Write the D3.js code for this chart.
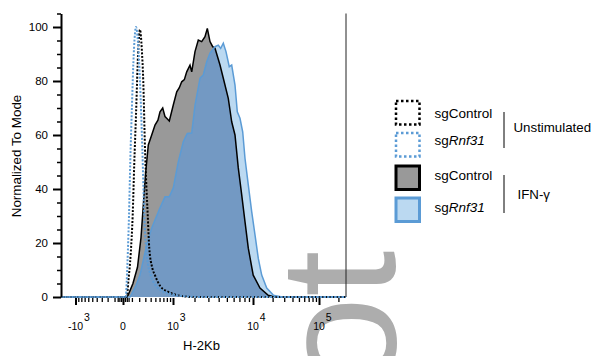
<!DOCTYPE html>
<html>
<head>
<meta charset="utf-8">
<script src="https://cdn.jsdelivr.net/npm/d3@7"></script>
<style>
  body { margin: 0; background: #fff; }
  svg { display: block; font-family: "Liberation Sans", Arial, sans-serif; }
</style>
</head>
<body>
<div id="chart"></div>
<script>
// histogram values: [H-2Kb intensity, % of mode]
var unstimControl = [[-1600,0],[40,0],[57,5.7],[85,16],[110,30.4],[130,49],[154,67.4],[187,92],[212,99],[240,92],
  [265,79.7],[294,55],[343,30.4],[373,18],[430,11],[492,8],[620,4],[844,1.9],[1200,0.6],[2000,0],[262144,0]];
var unstimRnf31 = [[-1600,0],[30,0],[39,5.7],[52,17],[65,30.4],[80,50],[97,67.4],[127,92],[154,100],[180,95],
  [212,80],[249,55],[282,30.4],[312,18],[350,12],[401,8],[500,4.5],[698,2],[1000,0.9],[1600,0.2],[2500,0],[262144,0]];
var ifnControl = [[-1600,0],[42,0],[55,0.7],[113,5],[175,11],[228,22],[259,32],[301,45],[354,56.3],[421,60],
  [492,63.7],[560,65.5],[611,68.6],[682,70],[746,66.8],[810,66],[876,65.2],[1010,71.1],[1137,76],[1240,77.5],
  [1341,79.7],[1460,80.5],[1574,83.4],[1744,85.9],[1838,83.4],[2030,90.9],[2240,95.2],[2474,94.6],[2722,96.4],
  [2909,99.5],[3138,94.6],[3387,92.7],[3612,92.1],[4148,85.9],[4540,81],[5196,73.6],[5696,64.9],[6223,60],
  [6792,47.8],[7436,37.8],[8107,27.9],[8842,18.1],[10073,8.1],[12820,3.3],[17000,0.7],[21720,0],[262144,0]];
var ifnRnf31 = [[-1600,0],[77,0],[150,4],[212,8.1],[324,19.3],[421,25.6],[611,33],[746,37.1],[876,37.1],
  [1010,40.4],[1200,50.1],[1412,57.5],[1604,60.6],[1838,60.7],[2030,71],[2356,81.1],[2591,82.2],[2860,87.1],
  [3138,90.3],[3612,92.7],[3956,93.3],[4227,92.1],[4540,94],[4884,90.9],[5338,85.3],[5696,85.9],[6223,78.5],
  [6616,68.6],[7105,66.2],[7633,61.2],[8107,51.4],[8842,41.5],[9664,31.6],[10740,23],[12076,14.3],[13624,8.1],
  [16252,3.3],[20480,0.7],[27760,0],[262144,0]];

var yMajorTicks = [0, 20, 40, 60, 80, 100];
var yMinorTicks = [5, 10, 15, 25, 30, 35, 45, 50, 55, 65, 70, 75, 85, 90, 95, 105];
var xMajorTicks = [-1000, 0, 1000, 10000, 100000];
var xTickBase = ["-10", "0", "10", "10", "10"];
var xTickExp = ["3", "", "3", "4", "5"];
var xMinorTicks = d3.range(-900, 0, 100).concat([-60, -40, -20, 20, 40, 60],
  d3.range(100, 1000, 100), d3.range(2000, 10000, 1000), d3.range(20000, 100000, 10000), [200000]);

var legendNames = ["sgControl", "sg", "sgControl", "sg"];
var legendItalic = ["", "Rnf31", "", "Rnf31"];
var groupNames = ["Unstimulated", "IFN-\u03b3"];

var black = "#000", blue = "#5b9bd5", grey = "#999999", lightBlue = "#bbd9f1", steel = "#7399c3";

var svg = d3.select("#chart").append("svg").attr("width", 599).attr("height", 356);

// faint watermark letters behind the chart
svg.append("text")
  .attr("transform", "translate(395,389) rotate(-90)")
  .attr("font-size", 166)
  .attr("fill", "#adadad")
  .text("ot");

var x = d3.scaleSymlog().constant(400)
  .domain([-1600, -1000, 0, 1000, 10000, 100000, 262144])
  .range([61, 75.5, 123, 173, 253, 319, 346]);
var y = d3.scaleLinear().domain([0, 105]).range([297, 13.5]);

var area = d3.area().x(function(d) { return x(d[0]); }).y0(y(0)).y1(function(d) { return y(d[1]); });
var line = d3.line().x(function(d) { return x(d[0]); }).y(function(d) { return y(d[1]); });
var smooth = d3.line().curve(d3.curveMonotoneX).x(function(d) { return x(d[0]); }).y(function(d) { return y(d[1]); });

svg.append("defs").append("clipPath").attr("id", "ctrlClip")
  .append("path").attr("d", area(ifnControl));

svg.append("path").attr("d", area(ifnControl)).attr("fill", grey);
svg.append("path").attr("d", area(ifnRnf31)).attr("fill", lightBlue);
svg.append("path").attr("d", area(ifnRnf31)).attr("fill", steel).attr("clip-path", "url(#ctrlClip)");
svg.append("path").attr("d", line(ifnControl)).attr("fill", "none").attr("stroke", black).attr("stroke-width", 1.5);
svg.append("path").attr("d", line(ifnRnf31)).attr("fill", "none").attr("stroke", blue).attr("stroke-width", 1.5);
svg.append("path").attr("d", smooth(unstimControl)).attr("fill", "none").attr("stroke", black)
  .attr("stroke-width", 2).attr("stroke-dasharray", "2,1.6");
svg.append("path").attr("d", smooth(unstimRnf31)).attr("fill", "none").attr("stroke", blue)
  .attr("stroke-width", 2).attr("stroke-dasharray", "2,1.6");

// right frame line
svg.append("line").attr("x1", 346).attr("x2", 346).attr("y1", y(105)).attr("y2", y(0))
  .attr("stroke", "#222").attr("stroke-width", 1);

// y axis
var yMinor = svg.append("g").attr("transform", "translate(61,0)")
  .call(d3.axisLeft(y).tickValues(yMinorTicks).tickSize(4).tickSizeOuter(0).tickFormat(""));
yMinor.select(".domain").attr("stroke-width", 2);
yMinor.selectAll(".tick line").attr("stroke-width", 1.5);
var yMajor = svg.append("g").attr("transform", "translate(61,0)")
  .call(d3.axisLeft(y).tickValues(yMajorTicks).tickSize(8).tickPadding(5));
yMajor.select(".domain").remove();
yMajor.selectAll(".tick line").attr("stroke-width", 2);
yMajor.selectAll(".tick text").attr("font-size", 11.5).attr("font-family", "Liberation Sans, Arial, sans-serif");

// x axis
var xMinor = svg.append("g").attr("transform", "translate(0,298)")
  .call(d3.axisBottom(x).tickValues(xMinorTicks).tickSize(4).tickFormat(""));
xMinor.select(".domain").remove();
xMinor.selectAll(".tick line").attr("stroke-width", 1.3);
var xMajor = svg.append("g").attr("transform", "translate(0,298)")
  .call(d3.axisBottom(x).tickValues(xMajorTicks).tickSize(7).tickFormat(""));
xMajor.select(".domain").remove();
xMajor.selectAll(".tick line").attr("stroke-width", 2);

xMajorTicks.forEach(function(v, i) {
  var base = svg.append("text").attr("x", x(v)).attr("y", 330)
    .attr("text-anchor", "middle").attr("font-size", 10.5).text(xTickBase[i]);
  if (xTickExp[i]) {
    var w = base.node().getComputedTextLength();
    svg.append("text").attr("x", x(v) + w / 2 + 1).attr("y", 321)
      .attr("font-size", 10.5).text(xTickExp[i]);
  }
});

svg.append("text").attr("x", 201.5).attr("y", 350).attr("text-anchor", "middle")
  .attr("font-size", 13).text("H-2Kb");
svg.append("text").attr("transform", "translate(20.5,156) rotate(-90)").attr("text-anchor", "middle")
  .attr("font-size", 13.4).text("Normalized To Mode");

// legend
var boxY = [101, 133, 166, 198];
var textY = [117.7, 145.3, 180, 212.3];
var boxStyle = [
  { fill: "none", stroke: black, width: 2.5, dash: "2.5,2.5" },
  { fill: "none", stroke: blue, width: 2.5, dash: "2.5,2.5" },
  { fill: grey, stroke: black, width: 3, dash: null },
  { fill: lightBlue, stroke: blue, width: 3, dash: null }
];
boxY.forEach(function(by, i) {
  var s = boxStyle[i];
  svg.append("rect").attr("x", 396).attr("y", by).attr("width", 23.5).attr("height", 23.5)
    .attr("fill", s.fill).attr("stroke", s.stroke).attr("stroke-width", s.width)
    .attr("stroke-dasharray", s.dash);
  var t = svg.append("text").attr("x", 434.5).attr("y", textY[i]).attr("font-size", 13.5).text(legendNames[i]);
  if (legendItalic[i]) t.append("tspan").attr("font-style", "italic").text(legendItalic[i]);
});

svg.append("line").attr("x1", 504).attr("x2", 504).attr("y1", 112).attr("y2", 148).attr("stroke", black);
svg.append("line").attr("x1", 504).attr("x2", 504).attr("y1", 175).attr("y2", 213).attr("stroke", black);
svg.append("text").attr("x", 513.5).attr("y", 132).attr("font-size", 13.3).text(groupNames[0]);
svg.append("text").attr("x", 517.5).attr("y", 199).attr("font-size", 13.3).text(groupNames[1]);
</script>
</body>
</html>
